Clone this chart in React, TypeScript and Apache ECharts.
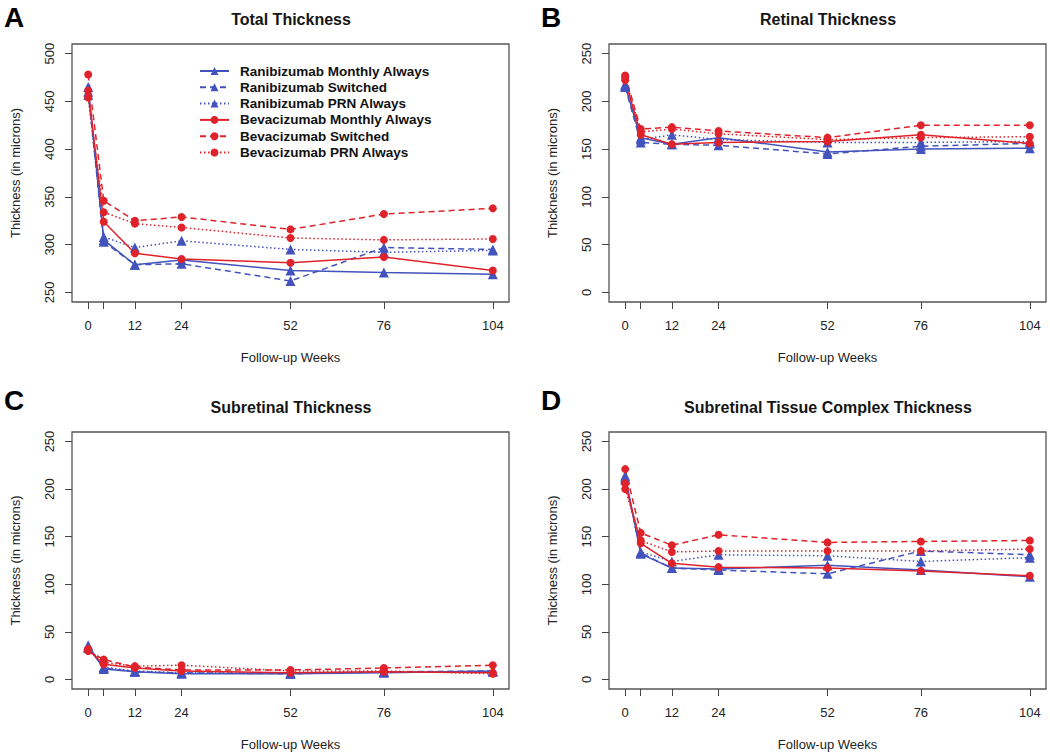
import React, { useEffect, useRef } from "react";
import * as echarts from "echarts";

const weeks = [0, 4, 12, 24, 52, 76, 104];
const xTickValues = [0, 4, 12, 24, 52, 76, 104];
const xLabelValues = [0, 12, 24, 52, 76, 104];
const yTicksTotal = [250, 300, 350, 400, 450, 500];
const yTicksOther = [0, 50, 100, 150, 200, 250];

const seriesNames = [
  "Ranibizumab Monthly Always",
  "Ranibizumab Switched",
  "Ranibizumab PRN Always",
  "Bevacizumab Monthly Always",
  "Bevacizumab Switched",
  "Bevacizumab PRN Always",
];

const panelTitles = [
  "Total Thickness",
  "Retinal Thickness",
  "Subretinal Thickness",
  "Subretinal Tissue Complex Thickness",
];
const panelLetters = ["A", "B", "C", "D"];

// rows follow seriesNames order; columns follow weeks
const totalThickness = [
  [465, 305, 279, 284, 273, 271, 269],
  [460, 303, 279, 280, 262, 297, 295],
  [457, 308, 297, 304, 295, 292, 294],
  [461, 324, 291, 285, 281, 287, 273],
  [478, 346, 325, 329, 316, 332, 338],
  [454, 334, 322, 318, 307, 305, 306],
];
const retinalThickness = [
  [216, 162, 155, 162, 147, 150, 151],
  [215, 157, 155, 154, 145, 153, 156],
  [218, 160, 165, 160, 157, 157, 158],
  [222, 165, 155, 157, 158, 165, 156],
  [227, 171, 173, 169, 162, 175, 175],
  [225, 168, 171, 166, 160, 162, 163],
];
const subretinalThickness = [
  [36, 11, 8, 6, 6, 7, 9],
  [34, 12, 8, 7, 6, 8, 9],
  [33, 13, 9, 7, 7, 8, 8],
  [31, 16, 12, 9, 7, 8, 7],
  [30, 21, 13, 10, 10, 12, 15],
  [32, 18, 14, 15, 9, 9, 6],
];
const complexThickness = [
  [214, 132, 117, 116, 120, 115, 108],
  [212, 133, 117, 115, 111, 135, 131],
  [210, 134, 124, 131, 130, 124, 128],
  [206, 143, 122, 118, 117, 114, 109],
  [221, 154, 141, 152, 144, 145, 146],
  [200, 146, 134, 135, 135, 135, 137],
];

const BLUE = "#4353bd";
const RED = "#e0222a";
const FONT = '"Liberation Sans", Arial, Helvetica, sans-serif';

export default function App() {
  const ref = useRef<HTMLDivElement>(null);
  useEffect(() => {
    if (!ref.current) return;
    const chart = echarts.init(ref.current, undefined, { renderer: "svg" });
    const panels = [totalThickness, retinalThickness, subretinalThickness, complexThickness];
    const gridPos = [
      { left: 72, top: 44, width: 437, height: 258 },
      { left: 609, top: 44, width: 437, height: 258 },
      { left: 72, top: 432, width: 437, height: 257 },
      { left: 609, top: 432, width: 437, height: 257 },
    ];
    const grids = gridPos.map((g) => ({
      ...g,
      show: true,
      borderColor: "#555",
      borderWidth: 1.3,
      backgroundColor: "transparent",
      containLabel: false,
    }));
    const xAxes = gridPos.map((_, i) => ({
      type: "value",
      gridIndex: i,
      position: "bottom",
      min: -4.16,
      max: 108.16,
      name: "Follow-up Weeks",
      nameLocation: "middle",
      nameGap: 49,
      nameTextStyle: { fontFamily: FONT, fontSize: 13, color: "#222" },
      axisLine: { show: false, onZero: false },
      axisTick: {
        show: true,
        inside: false,
        length: 7,
        customValues: xTickValues,
        lineStyle: { color: "#444", width: 1 },
      },
      axisLabel: {
        customValues: xLabelValues,
        margin: 17,
        fontFamily: FONT,
        fontSize: 13,
        color: "#222",
      },
      splitLine: { show: false },
    }));
    const yAxes = gridPos.map((_, i) => ({
      type: "value",
      gridIndex: i,
      position: "left",
      min: i === 0 ? 240 : -10,
      max: i === 0 ? 510 : 260,
      name: "Thickness (in microns)",
      nameLocation: "middle",
      nameGap: 50,
      nameRotate: 90,
      nameTextStyle: { fontFamily: FONT, fontSize: 13, color: "#222" },
      axisLine: { show: false, onZero: false },
      axisTick: {
        show: true,
        inside: false,
        length: 7,
        customValues: i === 0 ? yTicksTotal : yTicksOther,
        lineStyle: { color: "#444", width: 1 },
      },
      axisLabel: {
        customValues: i === 0 ? yTicksTotal : yTicksOther,
        rotate: 90,
        margin: 16,
        fontFamily: FONT,
        fontSize: 13,
        color: "#222",
      },
      splitLine: { show: false },
    }));
    const lineTypes: any[] = ["solid", [6, 4], [1.5, 2.5]];
    const series: any[] = [];
    panels.forEach((panel, p) => {
      panel.forEach((vals, s) => {
        const color = s < 3 ? BLUE : RED;
        series.push({
          type: "line",
          name: seriesNames[s],
          xAxisIndex: p,
          yAxisIndex: p,
          data: weeks.map((w, k) => [w, vals[k]]),
          symbol: s < 3 ? "triangle" : "circle",
          symbolSize: s < 3 ? 10 : 8,
          itemStyle: { color },
          lineStyle: { color, width: 1.5, type: lineTypes[s % 3] },
          emphasis: { disabled: true },
          silent: true,
        });
      });
    });
    const graphics: any[] = [];
    const titleCenters = [
      [291, 19],
      [828, 19],
      [291, 407],
      [828, 407],
    ];
    const letterPos = [
      [14, 17],
      [551, 17],
      [14, 400],
      [551, 400],
    ];
    titleCenters.forEach(([x, y], i) => {
      graphics.push({
        type: "text",
        x,
        y,
        style: {
          text: panelTitles[i],
          font: `bold 16px ${FONT}`,
          fill: "#151515",
          align: "center",
          verticalAlign: "middle",
          textAlign: "center",
          textVerticalAlign: "middle",
        },
      });
      graphics.push({
        type: "text",
        x: letterPos[i][0],
        y: letterPos[i][1],
        style: {
          text: panelLetters[i],
          font: `bold 28px ${FONT}`,
          fill: "#000",
          align: "center",
          verticalAlign: "middle",
          textAlign: "center",
          textVerticalAlign: "middle",
        },
      });
    });
    chart.setOption({
      animation: false,
      backgroundColor: "#fff",
      grid: grids,
      xAxis: xAxes,
      yAxis: yAxes,
      legend: {
        data: seriesNames,
        orient: "vertical",
        left: 194,
        top: 58,
        itemWidth: 29,
        itemHeight: 10,
        itemGap: 0.3,
        selectedMode: false,
        textStyle: {
          fontFamily: FONT,
          fontSize: 13.5,
          fontWeight: "bold",
          color: "#111",
          lineHeight: 16,
          padding: [0, 0, 0, 6],
        },
      },
      graphic: graphics,
      series,
    });
    return () => chart.dispose();
  }, []);
  return (
    <div
      ref={ref}
      style={{ position: "absolute", left: 0, top: 0, width: 1050, height: 756 }}
    />
  );
}
